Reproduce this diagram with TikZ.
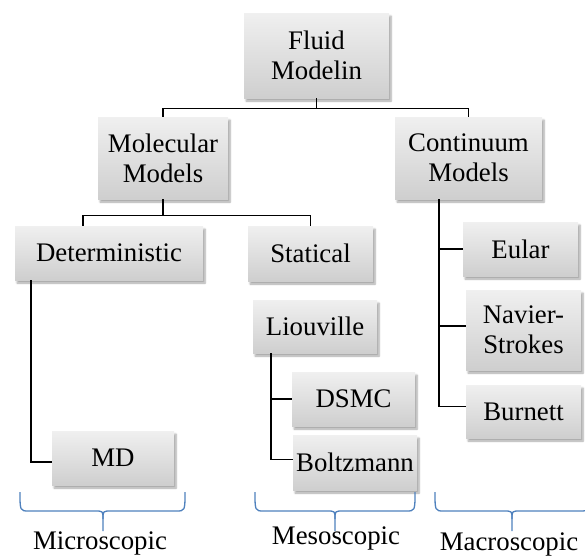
\documentclass[tikz,border=0pt]{standalone}
\usepackage{fontspec}
\setmainfont{Liberation Serif}
\usetikzlibrary{shadows.blur}
\definecolor{bracecol}{HTML}{4F81BD}
\tikzset{
  mbox/.style={rectangle, inner sep=0pt, align=center,
    top color=gray!12, bottom color=gray!38,
    blur shadow={shadow xshift=2pt, shadow yshift=-3pt, shadow blur steps=6, shadow opacity=35},
    font=\fontsize{26.8pt}{30pt}\selectfont},
  conn/.style={line width=1.4pt, black},
  brc/.style={line width=1.3pt, bracecol, line join=round},
  lbl/.style={font=\fontsize{26.8pt}{30pt}\selectfont, inner sep=0pt, anchor=base}
}
\newcommand\bracepath[3]{% left, center, right
  \draw[brc] (#1,492) .. controls (#1,511) and (#1,511) .. ({#1+9},511)
    -- ({#2-8},511) .. controls (#2,511) and (#2,511) .. (#2,519) -- (#2,531);
  \draw[brc] (#3,492) .. controls (#3,511) and (#3,511) .. ({#3-9},511)
    -- ({#2+8},511) .. controls (#2,511) and (#2,511) .. (#2,519);
}
\begin{document}
\begin{tikzpicture}[x=1pt,y=-1pt]
\useasboundingbox (0,0) rectangle (585,555);
% nodes (center, width, height)
\node[mbox, minimum width=145pt, minimum height=85pt] (fluid) at (316.5,55.5) {Fluid\\Modelin};
\node[mbox, minimum width=130pt, minimum height=82pt] (mol) at (163,158) {Molecular\\Models};
\node[mbox, minimum width=147pt, minimum height=82pt] (cont) at (468.5,158) {Continuum\\Models};
\node[mbox, minimum width=188pt, minimum height=54pt] (det) at (109,253) {Deterministic};
\node[mbox, minimum width=125pt, minimum height=55pt] (stat) at (310.5,253.5) {Statical};
\node[mbox, minimum width=124pt, minimum height=53pt] (liou) at (315,326.5) {Liouville};
\node[mbox, minimum width=123pt, minimum height=54pt] (dsmc) at (353.5,399) {DSMC};
\node[mbox, minimum width=124pt, minimum height=55pt] (boltz) at (355,462.5) {Boltzmann};
\node[mbox, minimum width=122pt, minimum height=54pt] (md) at (113,458) {MD};
\node[mbox, minimum width=115pt, minimum height=54pt] (eular) at (520.5,249) {Eular};
\node[mbox, minimum width=115pt, minimum height=80pt] (navier) at (523.5,330) {Navier-\\Strokes};
\node[mbox, minimum width=115pt, minimum height=53pt] (burnett) at (523.5,411.5) {Burnett};
\coordinate (nv) at ([yshift=4pt]navier.west);
% connectors
\draw[conn] (fluid.south) -- ++(0,10) coordinate (fj);
\draw[conn] (mol.north) |- (fj) -| (cont.north);
\draw[conn] (mol.south) -- ++(0,16) coordinate (mj);
\draw[conn] ([xshift=-26pt]det.north) |- (mj) -| (stat.north);
\draw[conn] ([xshift=16pt]det.south west) |- ([yshift=-4pt]md.west);
\draw[conn] ([xshift=18pt]liou.south west) |- ([yshift=3pt]boltz.west);
\draw[conn] ([xshift=18pt]liou.south west |- dsmc.west) -- (dsmc.west);
\draw[conn] ([xshift=44pt]cont.south west) |- ([yshift=5pt]burnett.west);
\draw[conn] ([xshift=44pt]cont.south west |- eular.west) -- (eular.west);
\draw[conn] ([xshift=44pt]cont.south west |- nv) -- (nv);
% braces
\bracepath{20}{103}{185}
\bracepath{255}{335}{415}
\bracepath{435}{512}{589}
% labels
\node[lbl] (micro) at (100,549) {Microscopic};
\node[lbl] (meso) at (336,544) {Mesoscopic};
\node[lbl] (macro) at (509,550) {Macroscopic};
\end{tikzpicture}
\end{document}
